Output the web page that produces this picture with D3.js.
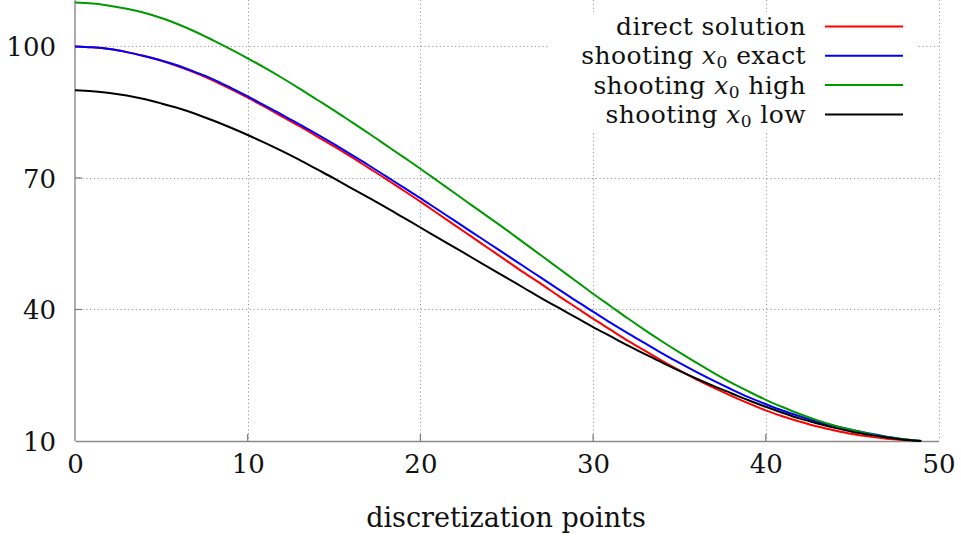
<!DOCTYPE html>
<html>
<head>
<meta charset="utf-8">
<script src="https://cdn.jsdelivr.net/npm/d3@7"></script>
<style>
  html, body { margin: 0; padding: 0; background: #fff; }
  svg { display: block; font-family: "DejaVu Serif", serif; }
</style>
</head>
<body>
<svg id="chart" width="961" height="536"></svg>
<script>
// Discretization points 0..49
const points = d3.range(0, 50);

// Solution profiles at each discretization point
const directSolution = [
  100.0, 99.8, 99.4, 98.7, 97.8, 96.7, 95.4, 93.9, 92.2, 90.3,
  88.3, 86.2, 84.0, 81.8, 79.5, 77.2, 74.8, 72.3, 69.8, 67.2,
  64.6, 61.9, 59.2, 56.5, 53.8, 51.1, 48.4, 45.8, 43.1, 40.5,
  37.9, 35.4, 32.9, 30.6, 28.3, 26.1, 24.0, 22.1, 20.3, 18.6,
  17.0, 15.6, 14.4, 13.3, 12.4, 11.6, 11.0, 10.5, 10.2, 10.0
];
const shootingExact = [
  100.0, 99.8, 99.4, 98.7, 97.8, 96.8, 95.6, 94.1, 92.5, 90.6,
  88.6, 86.5, 84.4, 82.2, 80.0, 77.7, 75.3, 72.9, 70.4, 67.9,
  65.4, 62.8, 60.2, 57.6, 55.0, 52.4, 49.8, 47.2, 44.6, 42.0,
  39.5, 37.0, 34.6, 32.3, 30.0, 27.8, 25.7, 23.7, 21.8, 20.0,
  18.4, 16.9, 15.6, 14.4, 13.4, 12.5, 11.7, 11.0, 10.4, 10.0
];
const shootingHigh = [
  110.0, 109.8, 109.3, 108.6, 107.7, 106.5, 105.0, 103.3, 101.4, 99.4,
  97.3, 95.1, 92.8, 90.4, 87.9, 85.4, 82.8, 80.2, 77.5, 74.8,
  72.1, 69.3, 66.5, 63.7, 60.9, 58.1, 55.2, 52.3, 49.4, 46.5,
  43.6, 40.8, 38.0, 35.3, 32.7, 30.2, 27.8, 25.5, 23.3, 21.3,
  19.4, 17.7, 16.1, 14.7, 13.5, 12.5, 11.6, 10.9, 10.4, 10.0
];
const shootingLow = [
  90.0, 89.8, 89.4, 88.8, 88.0, 87.0, 85.9, 84.6, 83.1, 81.5,
  79.8, 78.0, 76.1, 74.1, 72.0, 69.9, 67.7, 65.5, 63.3, 61.0,
  58.7, 56.4, 54.1, 51.8, 49.5, 47.2, 44.9, 42.6, 40.4, 38.2,
  36.0, 33.9, 31.8, 29.8, 27.9, 26.0, 24.2, 22.5, 20.9, 19.3,
  17.8, 16.4, 15.1, 14.0, 13.0, 12.1, 11.4, 10.8, 10.3, 10.0
];

const xTicks = [0, 10, 20, 30, 40, 50];
const yTicks = [10, 40, 70, 100];

const seriesNames = ["direct solution", "shooting x0 exact", "shooting x0 high", "shooting x0 low"];
const seriesColors = ["#ff0000", "#0000ff", "#009900", "#000000"];
const seriesValues = [directSolution, shootingExact, shootingHigh, shootingLow];

const svg = d3.select("#chart");

const x = d3.scaleLinear().domain([0, 50]).range([75, 938.5]);
const y = d3.scaleLinear().domain([10, 110]).range([441, 2.6]);
const plotTop = 0;

// Grid
const grid = svg.append("g").attr("stroke", "#9a9a9a").attr("stroke-width", 1)
  .attr("stroke-dasharray", "1.2,2.6").attr("fill", "none");
grid.selectAll("line.v").data(xTicks.filter(d => d > 0)).join("line")
  .attr("class", "v")
  .attr("x1", d => Math.round(x(d)) + 0.5).attr("x2", d => Math.round(x(d)) + 0.5)
  .attr("y1", plotTop).attr("y2", y(10));
grid.selectAll("line.h").data(yTicks.filter(d => d > 10)).join("line")
  .attr("class", "h")
  .attr("x1", x(0)).attr("x2", x(50))
  .attr("y1", d => Math.round(y(d)) + 0.5).attr("y2", d => Math.round(y(d)) + 0.5);

// Axes
const xAxis = d3.axisBottom(x).tickValues(xTicks).tickSize(0).tickPadding(14)
  .tickFormat(d3.format("d"));
const gx = svg.append("g").attr("transform", `translate(0,${y(10)})`).call(xAxis);
gx.select(".domain").attr("stroke", "#8a8a8a").attr("stroke-width", 1.6);
gx.selectAll("text").attr("font-family", "DejaVu Serif").attr("font-size", 26)
  .attr("fill", "#111").attr("dy", "0.71em");

const yAxis = d3.axisLeft(y).tickValues(yTicks).tickSize(0).tickPadding(19)
  .tickFormat(d3.format("d"));
const gy = svg.append("g").attr("transform", `translate(${x(0)},0)`).call(yAxis);
gy.select(".domain").attr("d", `M0,${plotTop}V${y(10)}`).attr("stroke", "#8a8a8a").attr("stroke-width", 1.4);
gy.selectAll("text").attr("font-family", "DejaVu Serif").attr("font-size", 26)
  .attr("fill", "#111").attr("dy", "0.36em");

// Inward tick marks
svg.append("g").selectAll("line").data(xTicks.filter(d => d > 0 && d < 50)).join("line")
  .attr("x1", d => x(d)).attr("x2", d => x(d))
  .attr("y1", y(10)).attr("y2", y(10) - 7)
  .attr("stroke", "#7a7a7a").attr("stroke-width", 1.2);
svg.append("g").selectAll("line").data(yTicks.filter(d => d > 10)).join("line")
  .attr("x1", x(0)).attr("x2", x(0) + 7)
  .attr("y1", d => y(d)).attr("y2", d => y(d))
  .attr("stroke", "#7a7a7a").attr("stroke-width", 1.2);

// Curves
const line = d3.line().x((d, i) => x(points[i])).y(d => y(d)).curve(d3.curveMonotoneX);
svg.append("g").selectAll("path").data(seriesValues).join("path")
  .attr("d", d => line(d))
  .attr("fill", "none")
  .attr("stroke", (d, i) => seriesColors[i])
  .attr("stroke-width", 2)
  .attr("stroke-linejoin", "round");

// x-axis title
svg.append("text").attr("x", 506).attr("y", 527).attr("text-anchor", "middle")
  .attr("font-size", 27).attr("fill", "#111").text("discretization points");

// Legend
const legend = svg.append("g");
legend.append("rect").attr("x", 548).attr("y", 12).attr("width", 370).attr("height", 120)
  .attr("fill", "#fff");
const rows = legend.selectAll("g.row").data(seriesNames).join("g")
  .attr("class", "row")
  .attr("transform", (d, i) => `translate(0,${35 + i * 29.3})`);
rows.each(function(name, i) {
  const g = d3.select(this);
  const t = g.append("text").attr("x", 806).attr("y", 0).attr("text-anchor", "end")
    .attr("font-size", 25).attr("letter-spacing", 0.4).attr("fill", "#111");
  const m = name.match(/^(.*?)x0(.*)$/);
  if (m) {
    t.append("tspan").text(m[1]);
    t.append("tspan").attr("font-style", "italic").text("x");
    t.append("tspan").attr("font-size", 17).attr("dy", 4).text("0");
    t.append("tspan").attr("dy", -4).text(m[2]);
  } else {
    t.text(name);
  }
  g.append("line").attr("x1", 825).attr("x2", 903).attr("y1", -8.5).attr("y2", -8.5)
    .attr("stroke", seriesColors[i]).attr("stroke-width", 2);
});
</script>
</body>
</html>
